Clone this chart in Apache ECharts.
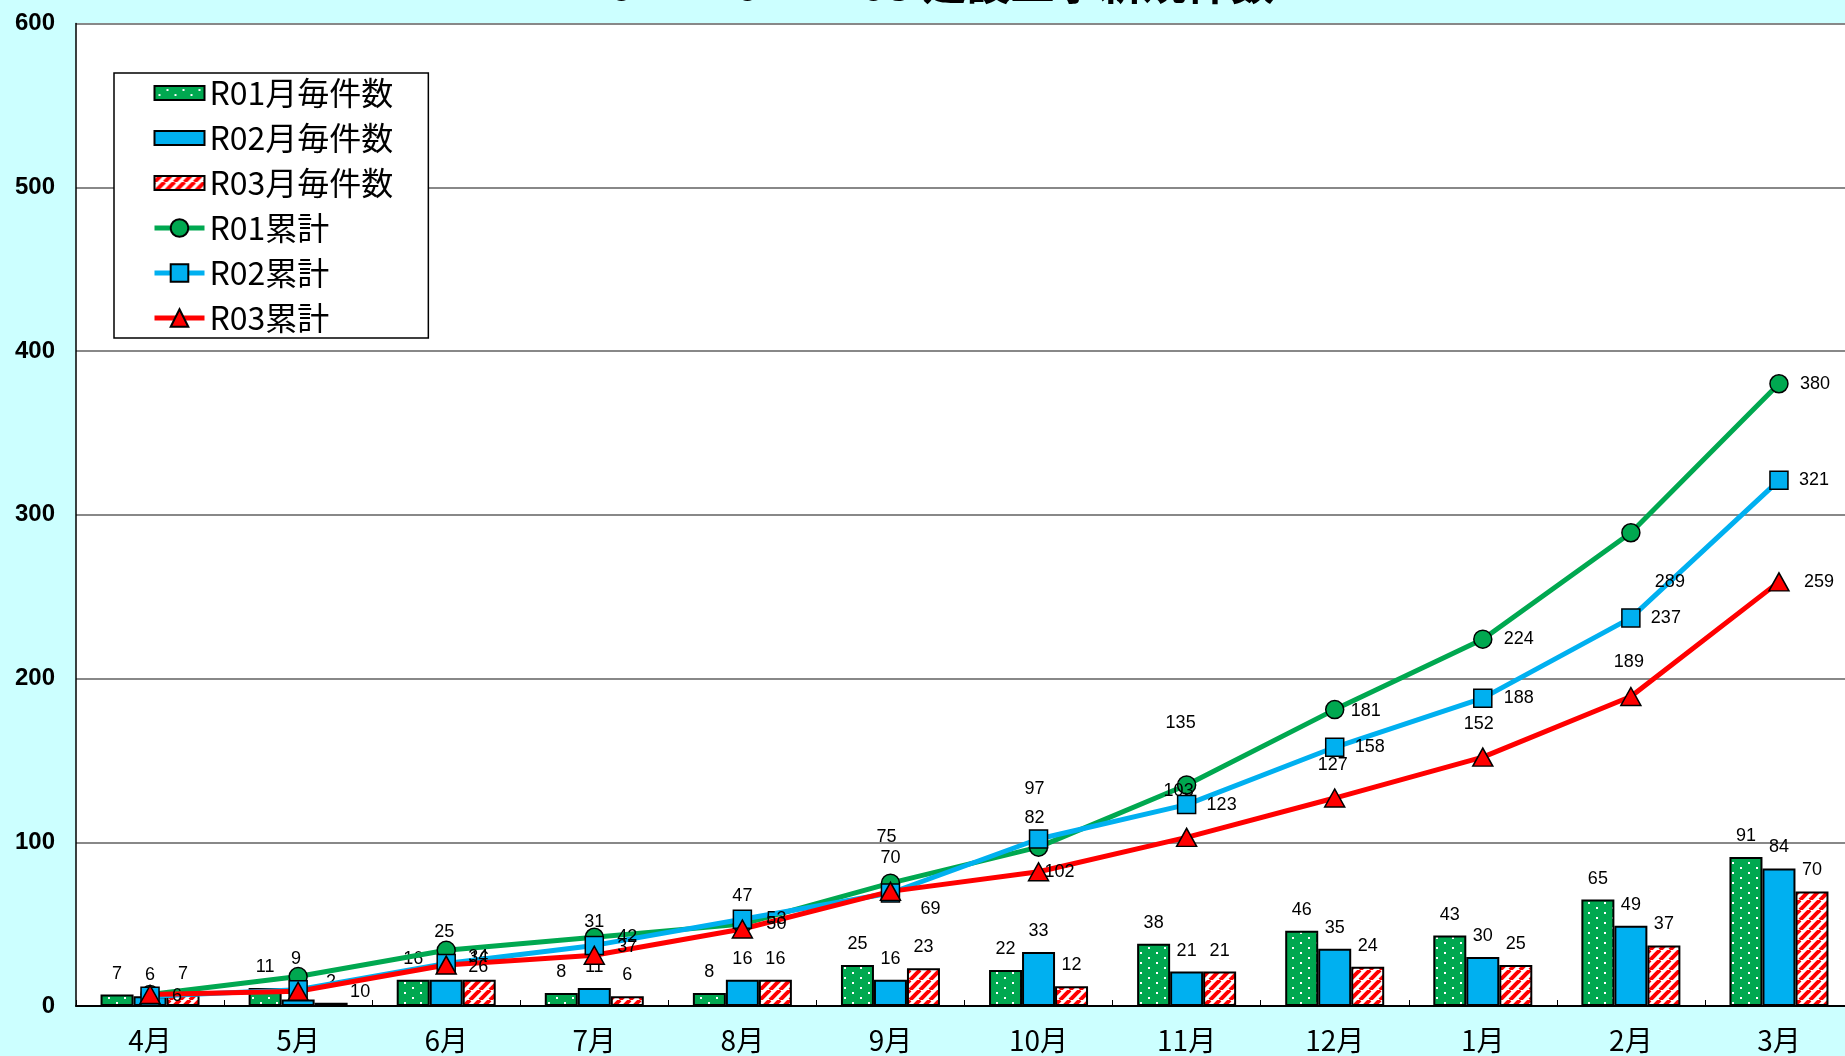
<!DOCTYPE html>
<html>
<head>
<meta charset="utf-8">
<script src="https://cdn.jsdelivr.net/npm/echarts@6/dist/echarts.min.js"></script>
<style>
html,body{margin:0;padding:0;background:#CCFFFF;overflow:hidden;}
#chart{width:1853px;height:1056px;}
</style>
</head>
<body>
<div id="chart"></div>
<script>
// ---- data ----
const categories = ['4月','5月','6月','7月','8月','9月','10月','11月','12月','1月','2月','3月'];
const seriesNames = ['R01月毎件数','R02月毎件数','R03月毎件数','R01累計','R02累計','R03累計'];
const r01Monthly = [7, 11, 16, 8, 8, 25, 22, 38, 46, 43, 65, 91];
const r02Monthly = [6, 4, 16, 11, 16, 16, 33, 21, 35, 30, 49, 84];
const r03Monthly = [7, 2, 16, 6, 16, 23, 12, 21, 24, 25, 37, 70];
const r01Cumulative = [7, 18, 34, 42, 50, 75, 97, 135, 181, 224, 289, 380];
const r02Cumulative = [6, 10, 26, 37, 53, 69, 102, 123, 158, 188, 237, 321];
const r03Cumulative = [7, 9, 25, 31, 47, 70, 82, 103, 127, 152, 189, 259];
const yMin = 0, yMax = 600, yInterval = 100;
const titleText = 'R01・R02・R03 建設工事新規件数';

// ---- label placement (style only; null = label hidden under a coincident label) ----
const r01CumLabelOffsets = [null,null,[32,7],[33,0],[34,0],[-4,-46],[-4,-58],[-6,-62],[31,1],[36,0],[39,49],[36,0]];
const r02CumLabelOffsets = [[27,0],[62,2],[32,4],[33,2],[34,0],[40,16],[21,33],[35,0],[35,0],[36,0],[35,0],[35,0]];
const r03CumLabelOffsets = [null,[-2,-32],[-2,-33],[0,-33],[0,-33],[0,-33],[-4,-54],[-8,-46],[-2,-33],[-4,-33],[-2,-34],[40,0]];

// ---- patterns ----
function dotPattern(){
  const c = document.createElement('canvas'); c.width = 16; c.height = 10;
  const g = c.getContext('2d');
  g.fillStyle = '#00A850'; g.fillRect(0,0,16,10);
  g.fillStyle = '#ffffff';
  g.fillRect(4,2,2,2); g.fillRect(12,7,2,2);
  return c;
}
function stripePattern(){
  const s = 10;
  const c = document.createElement('canvas'); c.width = s; c.height = s;
  const g = c.getContext('2d');
  g.fillStyle = '#ffffff'; g.fillRect(0,0,s,s);
  g.strokeStyle = '#FF0000'; g.lineWidth = 4;
  for (let k = -1; k <= 1; k++) {
    g.beginPath(); g.moveTo(k*s, s); g.lineTo(k*s + s, 0); g.stroke();
  }
  return c;
}
const greenFill = {image: dotPattern(), repeat: 'repeat'};
const redFill = {image: stripePattern(), repeat: 'repeat'};

const labelFont = {fontFamily: 'Liberation Sans', fontSize: 18, color: '#000'};
// legend bar icon: 50x14 box centered inside a 50x22 item box
const barIcon = 'path://M0,0M0,4L50,4L50,18L0,18ZM50,22';

function barSeries(name, data, fill){
  return {
    name, type: 'bar', data, barWidth: 33, barGap: '0%',
    itemStyle: {color: fill, borderColor: '#000', borderWidth: 2},
    label: Object.assign({show: true, position: 'top', distance: 12}, labelFont),
    z: 2
  };
}
function lineSeries(name, data, color, symbol, size, offsets){
  return {
    name, type: 'line', data: data.map((v, i) => {
      const o = offsets[i];
      return o ? {value: v, label: {offset: o}} : {value: v, label: {show: false}};
    }),
    symbol, symbolSize: size,
    lineStyle: {color, width: 5},
    itemStyle: {color, borderColor: '#000', borderWidth: 1.5},
    label: Object.assign({show: true, position: 'inside'}, labelFont),
    z: 5
  };
}

const chart = echarts.init(document.getElementById('chart'));
chart.setOption({
  backgroundColor: '#CCFFFF',
  animation: false,
  title: {
    text: titleText, left: 'center', top: -39, padding: [0,0,0,38],
    textStyle: {fontFamily: 'Noto Sans CJK JP', fontSize: 44, fontWeight: 'bold', color: '#000'}
  },
  legend: {
    orient: 'vertical', left: 114, top: 73,
    backgroundColor: '#fff', borderColor: '#000', borderWidth: 1.5,
    padding: [4, 35, 4, 38], itemWidth: 50, itemHeight: 22, itemGap: 13,
    lineStyle: {width: 5},
    textStyle: {fontFamily: 'Noto Sans CJK JP', fontSize: 32, lineHeight: 32, color: '#000'},
    data: [
      {name: seriesNames[0], icon: barIcon},
      {name: seriesNames[1], icon: barIcon},
      {name: seriesNames[2], icon: barIcon},
      {name: seriesNames[3]},
      {name: seriesNames[4]},
      {name: seriesNames[5]}
    ]
  },
  grid: {left: 76, top: 23.5, bottom: 50, right: 0, show: true, backgroundColor: '#fff', borderWidth: 0},
  xAxis: {
    type: 'category', data: categories,
    axisLine: {lineStyle: {color: '#000', width: 2}},
    axisTick: {show: true, inside: true, length: 6, lineStyle: {color: '#000', width: 1}},
    axisLabel: {fontFamily: 'Noto Sans CJK JP', fontSize: 28, color: '#000', margin: 20}
  },
  yAxis: {
    type: 'value', min: yMin, max: yMax, interval: yInterval,
    axisLine: {show: true, lineStyle: {color: '#000', width: 1.5}},
    axisTick: {show: false},
    splitLine: {lineStyle: {color: '#888', width: 2}},
    axisLabel: {fontFamily: 'Liberation Sans', fontSize: 24, fontWeight: 'bold', color: '#000', margin: 21}
  },
  series: [
    barSeries(seriesNames[0], r01Monthly, greenFill),
    barSeries(seriesNames[1], r02Monthly, '#00B0F0'),
    barSeries(seriesNames[2], r03Monthly, redFill),
    lineSeries(seriesNames[3], r01Cumulative, '#00A850', 'circle', 18, r01CumLabelOffsets),
    lineSeries(seriesNames[4], r02Cumulative, '#00B0F0', 'rect', 18, r02CumLabelOffsets),
    lineSeries(seriesNames[5], r03Cumulative, '#FF0000', 'triangle', [20, 18], r03CumLabelOffsets)
  ]
});
</script>
</body>
</html>
